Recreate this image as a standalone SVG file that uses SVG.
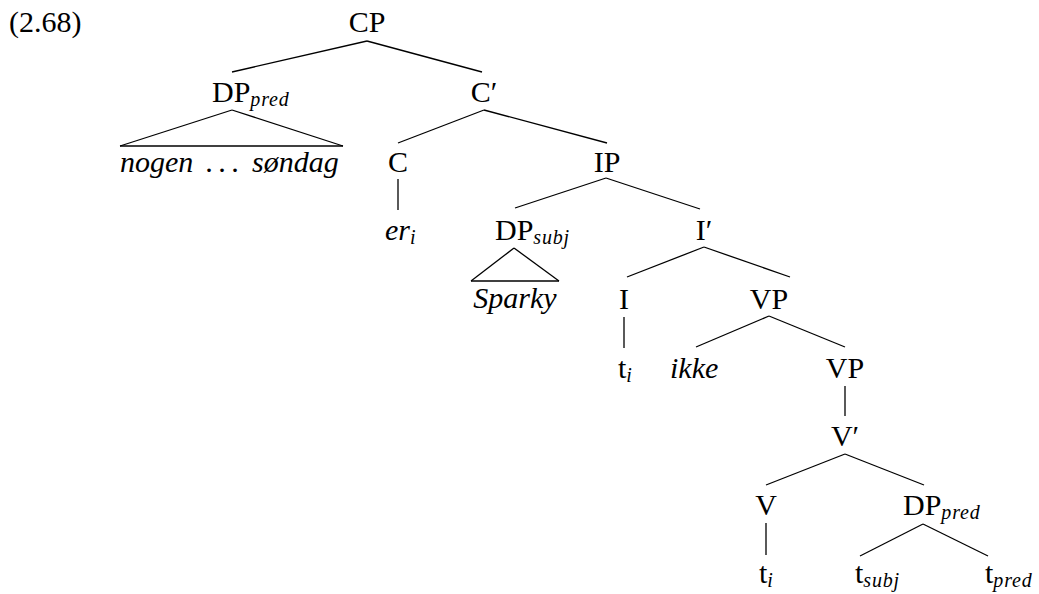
<svg xmlns="http://www.w3.org/2000/svg" width="1039" height="594" viewBox="0 0 1039 594">
<style>
text{font-family:'Liberation Serif','Times New Roman',serif;font-size:30px;fill:#000}
.n{text-anchor:middle}
.i{font-style:italic}
.s{font-style:italic;font-size:20px;letter-spacing:0.8px}
#edges line{stroke:#000;stroke-width:1.3;fill:none}
</style>
<rect width="1039" height="594" fill="#fff"/>
<text x="9" y="32">(2.68)</text>
<g id="edges">
<line x1="367" y1="41" x2="232" y2="72"/>
<line x1="367" y1="41" x2="482" y2="72"/>
<line x1="232" y1="110" x2="120" y2="146"/>
<line x1="232" y1="110" x2="343" y2="146"/>
<line x1="120" y1="146" x2="343" y2="146"/>
<line x1="484" y1="110" x2="398" y2="143"/>
<line x1="484" y1="110" x2="607" y2="143"/>
<line x1="398" y1="179" x2="398" y2="210"/>
<line x1="606" y1="178" x2="515" y2="208"/>
<line x1="606" y1="178" x2="700" y2="209"/>
<line x1="514" y1="248" x2="471" y2="281"/>
<line x1="514" y1="248" x2="559" y2="281"/>
<line x1="471" y1="281" x2="559" y2="281"/>
<line x1="704" y1="247" x2="627" y2="277"/>
<line x1="704" y1="247" x2="790" y2="277"/>
<line x1="624" y1="317" x2="624" y2="348"/>
<line x1="769" y1="316" x2="696" y2="347"/>
<line x1="769" y1="316" x2="845" y2="347"/>
<line x1="845" y1="386" x2="845" y2="416"/>
<line x1="845" y1="454" x2="766" y2="485"/>
<line x1="845" y1="454" x2="924" y2="485"/>
<line x1="766" y1="523" x2="766" y2="555"/>
<line x1="923" y1="524" x2="860" y2="556"/>
<line x1="923" y1="524" x2="988" y2="556"/>
</g>
<g id="CP"><text class="n" x="367" y="32">CP</text></g>
<g id="DPpred1"><text x="212" y="102">DP<tspan class="s" dy="4">pred</tspan></text></g>
<g id="nogen"><text class="i" x="120" y="172">nogen<tspan x="206" letter-spacing="-1">. . .</tspan><tspan x="252">søndag</tspan></text></g>
<g id="Cbar"><text class="n" x="484" y="102">C′</text></g>
<g id="C"><text class="n" x="398" y="172">C</text></g>
<g id="er"><text class="i" x="385" y="240">er<tspan class="s" dy="4">i</tspan></text></g>
<g id="IP"><text class="n" x="607" y="172">IP</text></g>
<g id="DPsubj"><text x="495" y="240">DP<tspan class="s" dy="4">subj</tspan></text></g>
<g id="Sparky"><text class="n i" x="515" y="308">Sparky</text></g>
<g id="Ibar"><text class="n" x="704" y="240">I′</text></g>
<g id="I"><text class="n" x="624" y="309">I</text></g>
<g id="VP1"><text class="n" x="769" y="309">VP</text></g>
<g id="ti1"><text x="618" y="378">t<tspan class="s" dy="4">i</tspan></text></g>
<g id="ikke"><text class="i" x="670" y="378">ikke</text></g>
<g id="VP2"><text class="n" x="845" y="378">VP</text></g>
<g id="Vbar"><text class="n" x="845" y="446">V′</text></g>
<g id="V"><text class="n" x="766" y="515">V</text></g>
<g id="DPpred2"><text x="903" y="515">DP<tspan class="s" dy="4">pred</tspan></text></g>
<g id="ti2"><text x="759" y="583">t<tspan class="s" dy="4">i</tspan></text></g>
<g id="tsubj"><text x="855" y="583">t<tspan class="s" dy="4">subj</tspan></text></g>
<g id="tpred"><text x="985" y="583">t<tspan class="s" dy="4">pred</tspan></text></g>
</svg>
